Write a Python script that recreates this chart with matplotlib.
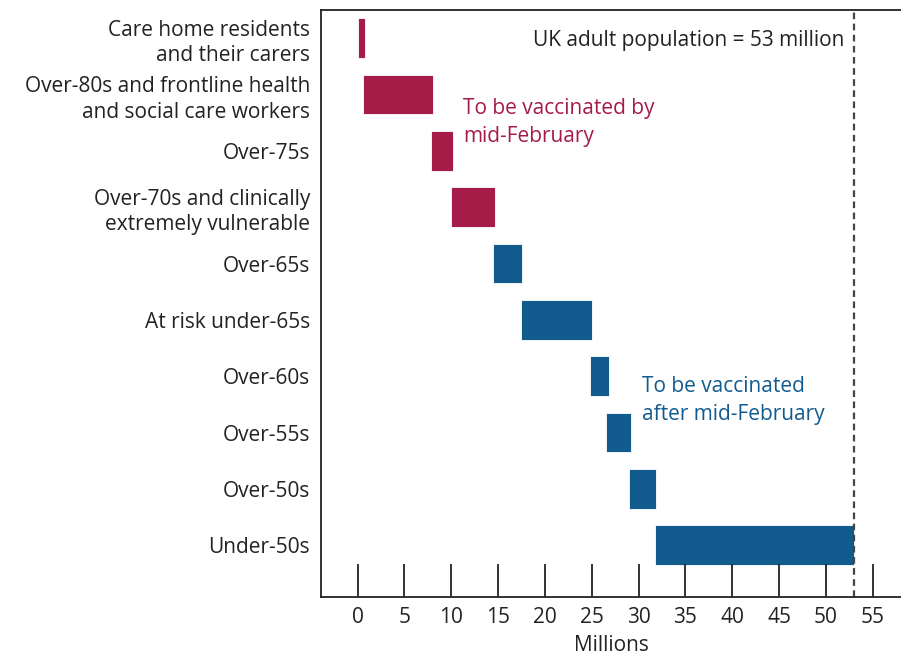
"""Vaccine priority groups, cumulative millions of UK adults"""

from matplotlib import pyplot as plt

plt.rcParams['font.family'] = ['Open Sans', 'DejaVu Sans']

groups = ["Care home residents\nand their carers",
          "Over-80s and frontline health\nand social care workers",
          "Over-75s",
          "Over-70s and clinically\nextremely vulnerable",
          "Over-65s",
          "At risk under-65s",
          "Over-60s",
          "Over-55s",
          "Over-50s",
          "Under-50s"]
starts = [0.0, 0.6, 7.8, 10.0, 14.5, 17.4, 24.8, 26.5, 29.0, 31.7]
ends = [0.8, 8.0, 10.2, 14.7, 17.6, 25.0, 26.8, 29.2, 31.9, 53.0]
before_feb = [True, True, True, True, False, False, False, False, False, False]
population = 53
xticks = list(range(0, 56, 5))

RED = '#a51c48'
BLUE = '#115b8f'
INK = '#222222'
FS = 15

fig = plt.figure(figsize=(9.01, 6.57), dpi=100)
ax = fig.add_axes([321 / 901, 60 / 657, 580 / 901, 587 / 657])

for i, (lo, hi) in enumerate(zip(starts, ends)):
    col = RED if before_feb[i] else BLUE
    ax.barh(i, hi - lo, left=lo, height=0.7, color=col,
            edgecolor='white', linewidth=0.6)

ax.axvline(population, color='#444444', linestyle=(0, (3, 2)), linewidth=1.6)

ax.set_xlim(-3.9, 58.0)
ax.set_ylim(9.92, -0.5)

ax.set_yticks(range(len(groups)))
ax.set_yticklabels(groups, fontsize=FS, color=INK, linespacing=1.3)
ax.tick_params(axis='y', length=0, pad=8)

ax.set_xticks(xticks)
ax.tick_params(axis='x', direction='in', length=24, width=1.3, color=INK,
               labelsize=FS, labelcolor=INK, pad=7)
ax.set_xlabel("Millions", fontsize=FS, color=INK, labelpad=5)

for side in ['left', 'top', 'bottom']:
    ax.spines[side].set_linewidth(1.3)
    ax.spines[side].set_color(INK)
ax.spines['right'].set_visible(False)

ax.text(population - 1.0, 0.05, "UK adult population = %d million" % population,
        ha='right', va='center', fontsize=FS, color=INK)
ax.text(11.3, 1.5, "To be vaccinated by\nmid-February", ha='left',
        va='center', fontsize=FS, color=RED, linespacing=1.45)
ax.text(30.4, 6.43, "To be vaccinated\nafter mid-February", ha='left',
        va='center', fontsize=FS, color=BLUE, linespacing=1.45)

fig.savefig('out.png', dpi=100)
